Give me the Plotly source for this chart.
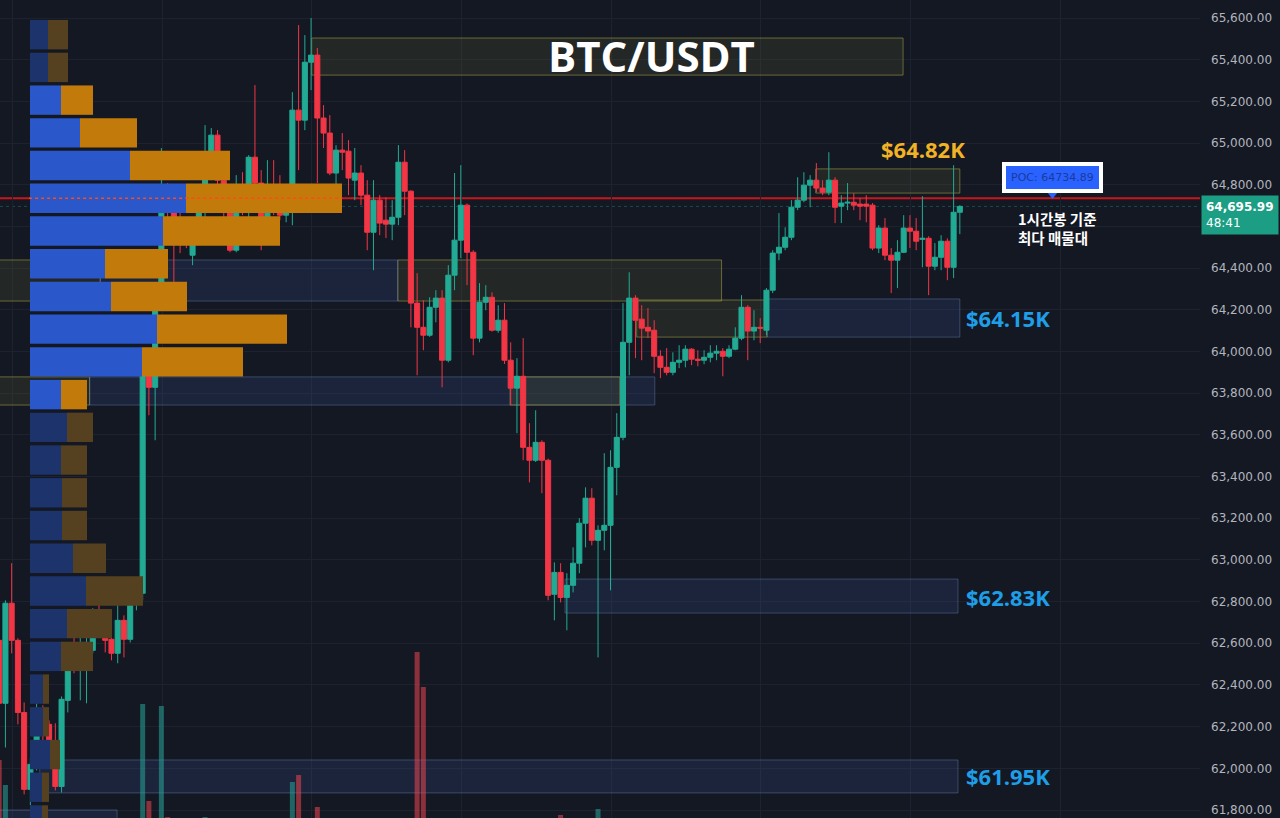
import plotly.graph_objects as go

# ---------------- data ----------------
opens = [62614,62312,62792,62614,62268,61899,62019,62283,62211,62062,
         61913,62326,62547,62532,62537,62566,62744,62734,62619,62552,
         62710,62619,62792,62840,63944,63828,64294,64740,64726,64616,
         64558,64462,64568,64668,64856,65038,64822,64668,64486,64788,
         64740,64932,64808,64544,64760,64726,64654,64726,65158,65110,
         65388,65422,65120,65048,64856,64966,64961,64822,64856,64750,
         64572,64726,64630,64611,64644,64908,64769,64232,64116,64078,
         64212,64256,63958,64366,64534,64702,64476,64064,64236,64260,
         64102,64150,63958,63824,63881,63540,63478,63564,63478,62835,
         62940,62820,62878,62984,63176,63296,63094,63142,63166,63444,
         63588,64044,64256,64155,64116,64102,63977,63924,63900,63948,
         63958,64011,63963,63958,63972,63992,64001,63977,64011,64064,
         64212,64098,64116,64102,64294,64472,64500,64548,64692,64726,
         64798,64822,64784,64764,64822,64697,64712,64716,64707,64707,
         64702,64496,64592,64462,64438,64476,64592,64577,64538,64543,
         64409,64452,64529,64404,64668]
highs = [62672,62806,62984,62624,62316,62048,62312,62302,62230,62216,
         62345,62566,62633,62638,62628,62768,62864,62758,62643,62806,
         62734,62912,62912,63977,64006,64318,64976,64808,64750,64678,
         64592,64596,64702,65086,65072,65062,64894,64726,64846,64860,
         64942,65278,64870,64918,64918,64846,64750,65244,65566,65518,
         65600,65456,65182,65134,64990,65048,65014,64976,64894,64822,
         64822,64750,64740,64726,64990,64966,64774,64376,64246,64260,
         64294,64294,64414,64856,64894,64710,64486,64328,64318,64284,
         64222,64232,64044,63968,64064,63656,63718,63574,63486,62988,
         62984,62936,63060,63200,63348,63344,63166,63512,63526,63704,
         64232,64380,64270,64222,64208,64150,64006,64016,63996,64030,
         64030,64016,64006,64006,64030,64030,64016,64030,64116,64270,
         64222,64198,64160,64304,64486,64664,64596,64726,64836,64860,
         64846,64904,64822,64956,64836,64750,64808,64760,64736,64750,
         64712,64606,64640,64496,64534,64654,64654,64640,64745,64553,
         64520,64558,64543,64894,64702]
lows = [62230,62100,62552,62211,61875,61822,61990,62052,62004,61894,
        61884,62268,62456,62326,62312,62552,62696,62556,62518,62504,
        62532,62604,62758,62806,63694,63574,64284,64606,64246,64472,
        64496,64414,64534,64630,64822,64798,64582,64476,64476,64654,
        64606,64798,64486,64534,64654,64630,64620,64606,64870,65062,
        65254,64808,64976,64846,64798,64870,64750,64726,64702,64486,
        64390,64558,64544,64534,64606,64654,64116,63886,64006,64070,
        64140,63828,63948,64294,64448,64318,63982,64044,64198,64095,
        64090,63940,63742,63608,63478,63372,63470,63320,62806,62710,
        62796,62662,62844,62936,63060,63070,62532,63046,62854,63310,
        63574,63886,63968,63958,64064,63896,63872,63886,63886,63920,
        63924,63934,63929,63939,63948,63958,63881,63968,64006,64054,
        63958,64054,64040,64078,64280,64438,64486,64534,64678,64716,
        64692,64764,64750,64750,64616,64616,64678,64678,64630,64620,
        64486,64472,64438,64280,64304,64472,64496,64486,64404,64270,
        64390,64390,64342,64352,64563]
closes = [62312,62792,62614,62268,61899,62019,62283,62206,62057,61913,
          62331,62547,62532,62542,62571,62744,62734,62614,62552,62710,
          62619,62792,62840,63944,63828,64294,64740,64716,64616,64558,
          64534,64582,64664,64856,65038,64822,64668,64486,64788,64740,
          64932,64808,64544,64760,64692,64654,64726,65158,65110,65388,
          65422,65120,65048,64856,64966,64956,64832,64856,64750,64572,
          64726,64616,64611,64644,64908,64769,64232,64116,64078,64212,
          64256,63958,64366,64534,64702,64476,64064,64236,64260,64102,
          64150,63958,63824,63881,63540,63478,63564,63478,62830,62940,
          62820,62878,62984,63176,63296,63094,63142,63166,63444,63588,
          64044,64256,64150,64112,64098,63977,63924,63900,63948,63958,
          64011,63963,63958,63972,63992,64001,63977,64011,64064,64212,
          64098,64116,64112,64294,64472,64500,64548,64692,64726,64798,
          64822,64784,64764,64822,64692,64712,64716,64702,64697,64697,
          64496,64592,64462,64438,64476,64592,64577,64529,64543,64409,
          64452,64529,64404,64668,64696]
candle_idx = list(range(len(opens)))

# visible volume bars (candle index, volume)
vol_idx = [0, 1, 23, 24, 26, 27, 33, 47, 48, 51, 67, 68, 90, 96]
vol_val = [700, 450, 1260, 290, 1240, 130, 130, 480, 550, 230, 1780, 1430, 150, 210]

# volume profile (price bin centre, buy volume, sell volume)
profile_price = [65520, 65363, 65206, 65049, 64892, 64735, 64578, 64421, 64264, 64107,
                 63950, 63793, 63636, 63479, 63322, 63165, 63008, 62851, 62694, 62537,
                 62380, 62223, 62066, 61909, 61752]
profile_buy = [18, 18, 31, 50, 100, 156, 133, 75, 81, 127,
               112, 31, 37, 31, 32, 32, 43, 56, 37, 31,
               13, 13, 20, 12, 12]
profile_sell = [20, 20, 32, 57, 100, 156, 117, 63, 76, 130,
                101, 26, 26, 26, 25, 25, 33, 57, 45, 32,
                6, 6, 10, 7, 6]
va_high = 65206
va_low = 63793
poc_price = 64734.89
last_price = 64695.99

# zones: start idx, end idx, top, bottom, kind
zone_x0 = [-3, 63.9, 16.2, -3, 14.5, 81.9, 50.1, 102.2, 123.1, 130.9, 90.7, 6.5, -3]
zone_x1 = [16.2, 115.8, 63.9, 14.5, 105.1, 99.5, 144.9, 123.1, 154.0, 154.0, 153.7, 153.7, 18.9]
zone_top = [64439, 64439, 64439, 63878, 63878, 63878, 65504, 64247, 64252, 64876, 62908, 62040, 61800]
zone_bot = [64242, 64242, 64242, 63743, 63743, 63743, 65326, 64069, 64069, 64760, 62745, 61882, 61650]
zone_kind = ['olive', 'olive', 'blue', 'olive', 'blue', 'olive', 'olive', 'olive', 'blue', 'olive',
             'blue', 'blue', 'blue']

level_labels = ['$64.82K', '$64.15K', '$62.83K', '$61.95K']
level_prices = [64971, 64161, 62822, 61963]

ytick_vals = [61800, 62000, 62200, 62400, 62600, 62800, 63000, 63200, 63400, 63600,
              63800, 64000, 64200, 64400, 64600, 64800, 65000, 65200, 65400, 65600]
hidden_tick = 64600  # covered by the last-price tag
ytick_text = ['' if v == hidden_tick else '{:,.2f}'.format(v) for v in ytick_vals]
grid_x = [2.1, 26.1, 50.1, 74.1, 98.1, 122.1, 146.1, 170.1]

BG = '#141823'
GRID = '#1e2230'
UP = '#22ab94'
DOWN = '#f23645'

fig = go.Figure()

# volume profile
buy_colors = ['#2a57c9' if va_low <= p <= va_high else '#1d336c' for p in profile_price]
sell_colors = ['#c27a0b' if va_low <= p <= va_high else '#55401f' for p in profile_price]
fig.add_trace(go.Bar(y=profile_price, x=profile_buy, base=0, orientation='h',
                     width=141, marker=dict(color=buy_colors, line=dict(width=0)),
                     xaxis='x2', yaxis='y', hoverinfo='skip'))
fig.add_trace(go.Bar(y=profile_price, x=profile_sell, base=profile_buy, orientation='h',
                     width=141, marker=dict(color=sell_colors, line=dict(width=0)),
                     xaxis='x2', yaxis='y', hoverinfo='skip'))

# volume bars
vol_colors = ['rgba(38,166,154,0.55)' if closes[i] >= opens[i] else 'rgba(239,70,80,0.55)' for i in vol_idx]
fig.add_trace(go.Bar(x=vol_idx, y=vol_val, width=0.8,
                     marker=dict(color=vol_colors, line=dict(width=0)),
                     xaxis='x', yaxis='y2', hoverinfo='skip'))

# candles
fig.add_trace(go.Candlestick(
    x=candle_idx, open=opens, high=highs, low=lows, close=closes,
    increasing=dict(line=dict(color=UP, width=1), fillcolor=UP),
    decreasing=dict(line=dict(color=DOWN, width=1), fillcolor=DOWN),
    whiskerwidth=0, hoverinfo='skip', xaxis='x', yaxis='y'))

shapes = []
for x0, x1, t, b, k in zip(zone_x0, zone_x1, zone_top, zone_bot, zone_kind):
    if k == 'olive':
        fill, line = 'rgba(120,120,55,0.16)', 'rgba(170,165,70,0.55)'
    else:
        fill, line = 'rgba(60,95,165,0.18)', 'rgba(110,140,190,0.40)'
    shapes.append(dict(type='rect', xref='x', yref='y', x0=x0, x1=x1, y0=b, y1=t,
                       fillcolor=fill, line=dict(color=line, width=1), layer='between'))
# POC line
shapes.append(dict(type='line', xref='paper', yref='y', x0=0, x1=1, y0=poc_price, y1=poc_price,
                   line=dict(color='#c8161d', width=2), layer='between'))
shapes.append(dict(type='line', xref='x', yref='y', x0=4.8, x1=55, y0=poc_price, y1=poc_price,
                   line=dict(color='#ff4a1a', width=1.5, dash='dot'), layer='above'))
# last price line
shapes.append(dict(type='line', xref='paper', yref='y', x0=0, x1=1, y0=last_price, y1=last_price,
                   line=dict(color='rgba(34,171,148,0.35)', width=1, dash='dot'), layer='between'))
# pointer under POC label
shapes.append(dict(type='path', xref='x', yref='y',
                   path='M 168.1,64760 L 169.6,64760 L 168.85,64731 Z',
                   fillcolor='#2962ff', line=dict(width=0), layer='above'))

annotations = [
    dict(x=104.5, y=65422, xref='x', yref='y', text='<b>BTC/USDT</b>', showarrow=False,
         font=dict(family='Open Sans', size=42, color='#ffffff'), xanchor='center', yanchor='middle'),
    dict(x=148.1, y=level_prices[0], xref='x', yref='y', text='<b>%s</b>' % level_labels[0], showarrow=False,
         font=dict(family='Open Sans', size=22, color='#f2b225'), xanchor='center', yanchor='middle'),
]
for lab, p in zip(level_labels[1:], level_prices[1:]):
    annotations.append(dict(x=154.6, y=p, xref='x', yref='y', text='<b>%s</b>' % lab, showarrow=False,
                            font=dict(family='Open Sans', size=22, color='#1f9ee8'),
                            xanchor='left', yanchor='middle'))
annotations += [
    dict(x=168.85, y=64837, xref='x', yref='y', text='POC: %.2f' % poc_price, showarrow=False,
         font=dict(family='DejaVu Sans', size=11, color='#1b3a9e'), bgcolor='#2962ff',
         bordercolor='#ffffff', borderwidth=4, borderpad=5, xanchor='center', yanchor='middle'),
    dict(x=163.0, y=64700, xref='x', yref='y', text='<b>1시간봉 기준<br>최다 매물대</b>', showarrow=False,
         font=dict(family='Noto Sans CJK KR', size=14.5, color='#ffffff'), align='left',
         xanchor='left', yanchor='top'),
    dict(x=1.0008, y=64654, xref='paper', yref='y',
         text='<b>{:,.2f}</b><br>48:41'.format(last_price), showarrow=False,
         font=dict(family='DejaVu Sans', size=12, color='#ffffff'), bgcolor='#1b9e83',
         align='left', borderpad=4, xanchor='left', yanchor='middle'),
]

fig.update_layout(
    width=1280, height=818, margin=dict(l=0, r=80, t=0, b=0),
    paper_bgcolor=BG, plot_bgcolor=BG, showlegend=False,
    barmode='overlay', boxgap=0.1, boxgroupgap=0.1,
    xaxis=dict(range=[0.13, 192.5], showticklabels=False, tickvals=grid_x, showgrid=True,
               gridcolor=GRID, zeroline=False, showline=False, ticks='',
               rangeslider=dict(visible=False)),
    xaxis2=dict(overlaying='x', anchor='y', range=[-30, 1170], visible=False),
    yaxis=dict(side='right', range=[61761.6, 65686.4], tickvals=ytick_vals, ticktext=ytick_text,
               showgrid=True, gridcolor=GRID, zeroline=False, showline=False, ticks='',
               ticklabelstandoff=10,
               tickfont=dict(family='DejaVu Sans', size=12, color='#b2b5be')),
    yaxis2=dict(overlaying='y', anchor='x', range=[120, 8300], visible=False),
    shapes=shapes, annotations=annotations,
)

fig.write_html('out.html')
